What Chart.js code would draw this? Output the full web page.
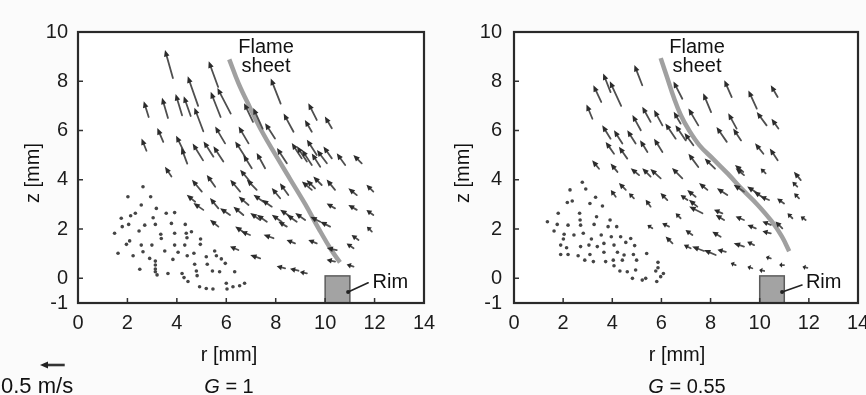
<!DOCTYPE html>
<html>
<head>
<meta charset="utf-8">
<script src="https://cdn.jsdelivr.net/npm/chart.js@4.4.1/dist/chart.umd.min.js"></script>
<style>
  html, body { margin: 0; padding: 0; background: #fbfbfb; overflow: hidden; }
  body { width: 866px; height: 395px; position: relative; }
  .panel { position: absolute; top: 0; width: 440px; height: 395px; }
  #panelA { left: 0; }
  #panelB { left: 430px; }
</style>
</head>
<body>
<div class="panel" id="panelA"><canvas id="chartA" width="440" height="395"></canvas></div>
<div class="panel" id="panelB"><canvas id="chartB" width="440" height="395"></canvas></div>
<script>
Chart.defaults.font.family = "'Liberation Sans', Arial, sans-serif";
Chart.defaults.font.size = 20;
Chart.defaults.color = '#1c1c1c';

const MM_PER_MS = 2;          // arrow length in mm for 1 m/s
const legendSpeed = 0.5;      // reference arrow, m/s
const zTickValues = [-1, 0, 2, 4, 6, 8, 10];
const rimR = [10, 11];
const rimZ = [-1, 0.1];

// ---- G = 1 ----
const flameR1 = [6.12, 6.50, 6.95, 7.45, 8.00, 8.60, 9.20, 9.75, 10.25, 10.60];
const flameZ1 = [8.89, 7.90, 6.95, 5.95, 5.00, 4.00, 3.00, 2.00, 1.15, 0.65];

const arrowR1 = [3.84, 5.67, 4.86, 2.86, 3.64, 4.21, 4.56, 5.07, 5.77, 6.18, 3.45, 2.77, 4.29, 4.42, 5.06, 7.08, 8.20, 7.47, 3.78,
  5.95, 6.90, 7.97, 8.72, 9.66, 9.46, 10.27,
  5.48, 5.88, 6.76, 7.03, 7.57, 8.45, 9.05, 9.26, 9.46, 9.66, 9.80, 10.07, 10.27, 10.81, 11.48,
  5.01, 5.55, 6.56, 6.96, 7.23, 8.18, 8.51, 9.46, 9.59, 9.86, 10.40, 11.28, 11.95,
  4.74, 5.07, 5.68, 6.15, 6.69, 6.90, 7.50, 7.84, 7.37, 7.64, 8.24, 8.58, 8.85, 9.19, 8.45, 9.80, 10.20, 10.40, 11.28, 11.95,
  5.68, 6.76, 6.96, 7.91, 8.78, 9.66, 10.47, 11.15, 11.35, 11.89,
  6.49, 7.37, 8.38, 8.92, 9.26, 10.40, 11.15];
const arrowZ1 = [8.13, 7.77, 7.00, 6.55, 6.51, 6.62, 6.59, 5.97, 6.55, 6.69, 5.54, 5.18, 5.13, 4.66, 4.79, 6.35, 7.09, 6.08, 4.13,
  5.48, 5.48, 5.68, 5.95, 6.43, 5.95, 6.09,
  4.94, 4.74, 4.94, 4.47, 4.47, 4.67, 4.87, 4.74, 4.60, 5.01, 4.53, 4.67, 4.87, 4.60, 4.67,
  3.52, 3.72, 3.52, 3.93, 3.59, 3.25, 3.38, 3.59, 3.65, 3.79, 3.59, 3.38, 3.52,
  3.11, 2.78, 2.84, 2.57, 2.57, 2.98, 3.11, 2.91, 2.37, 2.30, 2.30, 2.51, 2.30, 2.37, 2.10, 2.30, 2.10, 2.84, 2.78, 2.57,
  2.10, 1.83, 1.76, 1.63, 1.42, 1.42, 1.15, 1.22, 1.56, 1.90,
  1.15, 0.81, 0.41, 0.31, 0.20, 0.68, 0.48];
const arrowU1 = [-0.16, -0.19, -0.21, -0.10, -0.12, -0.13, -0.14, -0.18, -0.20, -0.27, -0.12, -0.10, -0.16, -0.12, -0.21, -0.18, -0.20, -0.19, -0.13,
  -0.20, -0.20, -0.20, -0.20, -0.17, -0.14, -0.14,
  -0.20, -0.20, -0.20, -0.17, -0.17, -0.20, -0.20, -0.20, -0.20, -0.20, -0.17, -0.20, -0.17, -0.17, -0.17,
  -0.20, -0.17, -0.20, -0.20, -0.20, -0.17, -0.17, -0.20, -0.17, -0.17, -0.17, -0.17, -0.14,
  -0.17, -0.20, -0.17, -0.20, -0.20, -0.20, -0.20, -0.20, -0.20, -0.20, -0.20, -0.20, -0.20, -0.20, -0.17, -0.20, -0.20, -0.17, -0.17, -0.14,
  -0.17, -0.20, -0.17, -0.20, -0.17, -0.17, -0.20, -0.14, -0.14, -0.10,
  -0.17, -0.20, -0.17, -0.17, -0.14, -0.17, -0.14];
const arrowW1 = [0.57, 0.52, 0.60, 0.32, 0.41, 0.43, 0.40, 0.48, 0.51, 0.52, 0.28, 0.25, 0.33, 0.32, 0.34, 0.38, 0.51, 0.42, 0.20,
  0.34, 0.34, 0.31, 0.37, 0.34, 0.24, 0.24,
  0.31, 0.31, 0.31, 0.27, 0.31, 0.31, 0.31, 0.31, 0.31, 0.31, 0.27, 0.27, 0.24, 0.24, 0.17,
  0.24, 0.24, 0.24, 0.24, 0.21, 0.21, 0.24, 0.17, 0.17, 0.17, 0.21, 0.14, 0.14,
  0.14, 0.14, 0.21, 0.14, 0.17, 0.17, 0.14, 0.14, 0.14, 0.14, 0.14, 0.14, 0.14, 0.14, 0.10, 0.10, 0.10, 0.10, 0.10, 0.10,
  0.14, 0.14, 0.07, 0.07, 0.07, 0.07, 0.04, 0.10, 0.10, 0.10,
  0.07, 0.07, 0.04, 0.04, 0.03, 0.04, 0.04];

// near-stagnant vectors in the recirculation zone
const dotR1 = [2.63, 2.02, 2.94, 2.56, 3.17, 1.75, 2.13, 2.32, 3.57, 3.91, 3.04, 1.48, 1.79, 2.05, 2.70, 2.47, 3.13, 3.78,
  4.34, 3.35, 3.37, 3.91, 4.38, 4.59, 4.41, 2.09, 1.96, 2.56, 2.99, 3.91, 4.32, 4.96, 4.95, 1.62, 2.23, 2.63, 3.51, 4.05,
  4.42, 4.69, 5.19, 5.53, 5.60, 2.90, 3.13, 3.84, 4.72, 5.23, 5.80, 5.96, 2.50, 3.13, 3.13, 3.13, 3.20, 3.64, 4.21, 4.29,
  4.79, 4.82, 5.44, 5.73, 6.34, 4.45, 4.92, 5.19, 5.46, 6.00, 6.03, 6.27, 6.54, 6.74];
const dotZ1 = [3.72, 3.31, 3.31, 2.98, 2.84, 2.44, 2.54, 2.64, 2.64, 2.67, 2.46, 1.83, 2.10, 2.19, 2.16, 1.92, 2.19, 2.23,
  2.19, 1.79, 1.62, 1.83, 1.83, 1.89, 1.65, 1.52, 1.38, 1.35, 1.35, 1.35, 1.35, 1.60, 1.38, 1.02, 0.92, 1.08, 1.11, 1.06,
  0.92, 1.02, 0.88, 1.11, 0.92, 0.81, 0.70, 0.77, 0.57, 0.57, 0.79, 0.61, 0.37, 0.54, 0.38, 0.27, 0.14, 0.20, 0.20, 0.03,
  0.30, 0.11, 0.30, 0.27, 0.27, -0.13, -0.34, -0.41, -0.43, -0.20, -0.43, -0.34, -0.30, -0.20];

// ---- G = 0.55 ----
const flameR2 = [5.97, 6.25, 6.50, 6.80, 7.10, 7.55, 8.10, 8.70, 9.30, 9.90, 10.50, 10.90, 11.20];
const flameZ2 = [8.94, 8.10, 7.35, 6.60, 6.05, 5.40, 4.85, 4.25, 3.60, 3.00, 2.30, 1.70, 1.10];

const arrowR2 = [5.22, 3.93, 4.36, 3.55, 3.19, 5.56, 6.04, 6.85, 6.78, 5.16, 3.93, 4.41, 4.95, 5.43, 6.04, 6.58, 6.99, 4.07, 4.61, 3.46, 4.21,
  8.86, 9.88, 10.73, 8.02, 7.50, 9.06, 10.28, 10.76, 8.66, 9.24, 10.15, 10.73, 7.50, 8.18, 9.33, 7.30,
  5.09, 5.56, 5.97, 6.85, 9.36, 10.24, 11.67,
  4.14, 4.55, 4.88, 5.56, 6.24, 7.06, 7.39, 7.46, 7.87, 8.68, 9.36, 9.91, 10.18, 10.38, 10.99, 11.53, 11.60,
  6.78, 7.67, 8.48, 8.55, 9.36, 9.84, 10.45, 10.92, 11.33, 11.87, 5.63, 6.31,
  6.45, 7.26, 8.41, 9.36, 9.77, 10.45, 7.19, 7.73, 8.21, 8.62,
  9.02, 9.70, 10.18, 10.45, 10.99, 11.94];
const arrowZ2 = [7.84, 7.56, 7.00, 7.16, 6.48, 6.35, 6.21, 7.29, 6.28, 6.01, 5.67, 5.47, 5.47, 5.13, 5.13, 5.67, 5.60, 5.06, 4.86, 4.45, 4.32,
  7.36, 6.89, 7.36, 6.75, 6.21, 6.08, 6.21, 6.08, 5.54, 5.60, 5.06, 4.79, 4.52, 4.45, 4.32, 5.40,
  4.19, 4.13, 4.06, 4.06, 4.19, 4.26, 3.99,
  3.31, 3.59, 3.25, 2.91, 3.18, 3.18, 3.31, 2.91, 3.59, 3.38, 3.52, 3.45, 3.25, 3.18, 3.04, 3.72, 3.25,
  2.44, 2.64, 2.64, 2.37, 2.37, 2.03, 2.17, 2.03, 2.44, 2.37, 2.03, 2.10,
  1.42, 1.76, 1.69, 1.29, 1.35, 1.83, 1.22, 1.11, 0.95, 1.08,
  0.54, 0.41, 0.30, 0.81, 0.54, 0.43];
const arrowU2 = [-0.16, -0.15, -0.23, -0.16, -0.12, -0.17, -0.17, -0.18, -0.14, -0.17, -0.17, -0.17, -0.17, -0.15, -0.17, -0.21, -0.21, -0.17, -0.17, -0.14, -0.14,
  -0.15, -0.17, -0.14, -0.16, -0.20, -0.17, -0.20, -0.14, -0.21, -0.16, -0.17, -0.16, -0.20, -0.21, -0.17, -0.18,
  -0.17, -0.17, -0.21, -0.21, -0.17, -0.10, -0.14,
  -0.10, -0.14, -0.10, -0.10, -0.14, -0.14, -0.17, -0.17, -0.17, -0.21, -0.21, -0.21, -0.21, -0.17, -0.14, -0.10, -0.10,
  -0.10, -0.27, -0.17, -0.17, -0.17, -0.17, -0.17, -0.14, -0.10, -0.10, -0.10, -0.14,
  -0.14, -0.14, -0.17, -0.21, -0.14, -0.17, -0.14, -0.24, -0.24, -0.17,
  -0.10, -0.10, -0.10, -0.10, -0.10, -0.10];
const arrowW2 = [0.41, 0.38, 0.50, 0.34, 0.29, 0.31, 0.31, 0.35, 0.24, 0.31, 0.27, 0.27, 0.27, 0.24, 0.27, 0.31, 0.31, 0.24, 0.24, 0.17, 0.17,
  0.34, 0.37, 0.24, 0.38, 0.34, 0.31, 0.27, 0.20, 0.30, 0.24, 0.21, 0.24, 0.27, 0.21, 0.14, 0.25,
  0.14, 0.17, 0.19, 0.21, 0.14, 0.10, 0.17,
  0.14, 0.14, 0.10, 0.14, 0.14, 0.10, 0.14, 0.14, 0.14, 0.14, 0.14, 0.14, 0.14, 0.07, 0.10, 0.10, 0.10,
  0.10, 0.14, 0.07, 0.10, 0.07, 0.07, 0.07, 0.14, 0.10, 0.07, 0.07, 0.07,
  0.14, 0.10, 0.10, 0.07, 0.07, 0.04, 0.07, 0.09, 0.10, 0.04,
  0.04, 0.03, 0.02, 0.03, 0.00, 0.02];

const dotR2 = [2.78, 2.92, 2.28, 3.32, 2.17, 2.37, 3.09, 3.60, 1.80, 2.67, 3.36, 1.36, 2.69, 3.91, 1.76, 2.20, 2.71, 3.26,
  3.83, 4.18, 1.63, 2.04, 2.44, 2.82, 3.15, 3.55, 3.96, 4.34, 4.75, 2.01, 1.90, 2.14, 2.71, 3.05, 3.39, 3.66, 4.07, 4.55,
  4.91, 1.90, 2.20, 2.61, 3.09, 3.66, 4.21, 4.48, 4.86, 5.40, 2.88, 3.23, 3.73, 4.04, 4.41, 4.99, 4.07, 4.31, 4.61, 4.95,
  5.86, 5.86, 5.77, 6.08, 5.97, 5.81, 4.82, 5.22, 5.36];
const dotZ2 = [3.90, 3.63, 3.59, 3.29, 3.08, 3.14, 3.04, 2.94, 2.64, 2.64, 2.50, 2.30, 2.37, 2.37, 2.19, 2.16, 2.16, 2.19,
  2.10, 2.10, 1.92, 1.79, 1.76, 1.83, 1.60, 1.76, 1.69, 1.69, 1.62, 1.60, 1.35, 1.24, 1.29, 1.35, 1.29, 1.42, 1.35, 1.46,
  1.33, 0.97, 0.97, 0.92, 0.97, 1.06, 1.06, 0.95, 0.97, 1.01, 0.74, 0.68, 0.68, 0.74, 0.74, 0.74, 0.51, 0.30, 0.27, 0.34,
  0.65, 0.43, 0.30, 0.20, 0.07, -0.13, 0.00, -0.07, 0.00];

const TEXT_FONT = "20px 'Liberation Sans', Arial, sans-serif";
const ITALIC_FONT = "italic 20px 'Liberation Sans', Arial, sans-serif";

function drawArrow(ctx, x0, y0, x1, y1, head, half) {
    const dx = x1 - x0, dy = y1 - y0;
    const len = Math.hypot(dx, dy);
    if (len < 0.5) return;
    const ux = dx / len, uy = dy / len;
    const h = Math.min(head, len * 0.6);
    const bx = x1 - ux * h, by = y1 - uy * h;
    ctx.beginPath();
    ctx.moveTo(x0, y0);
    ctx.lineTo(bx + ux, by + uy);
    ctx.stroke();
    ctx.beginPath();
    ctx.moveTo(x1, y1);
    ctx.lineTo(bx - uy * half, by + ux * half);
    ctx.lineTo(bx + uy * half, by - ux * half);
    ctx.closePath();
    ctx.fill();
}

const fieldPlugin = {
    id: 'field',
    beforeDraw(chart) {
        const { ctx, chartArea: a } = chart;
        ctx.save();
        ctx.fillStyle = '#ffffff';
        ctx.fillRect(a.left, a.top, a.width, a.height);
        ctx.restore();
    },
    beforeDatasetsDraw(chart) {
        // burner rim
        const { ctx, scales: { x, y } } = chart;
        const x0 = x.getPixelForValue(rimR[0]), x1 = x.getPixelForValue(rimR[1]);
        const y0 = y.getPixelForValue(rimZ[1]), y1 = y.getPixelForValue(rimZ[0]);
        ctx.save();
        ctx.fillStyle = '#a3a3a3';
        ctx.strokeStyle = '#5c5c5c';
        ctx.lineWidth = 1.5;
        ctx.fillRect(x0, y0, x1 - x0, y1 - y0);
        ctx.strokeRect(x0, y0, x1 - x0, y1 - y0);
        ctx.restore();
    },
    afterDatasetsDraw(chart, args, opts) {
        const { ctx, scales: { x, y } } = chart;
        ctx.save();
        ctx.strokeStyle = '#4f4f4f';
        ctx.fillStyle = '#2b2b2b';
        ctx.lineWidth = 1.8;
        ctx.lineCap = 'round';
        chart.data.datasets.forEach((ds) => {
            if (!ds.quiver) return;
            ds.data.forEach((p) => {
                drawArrow(ctx,
                    x.getPixelForValue(p.x), y.getPixelForValue(p.y),
                    x.getPixelForValue(p.x + p.u * MM_PER_MS), y.getPixelForValue(p.y + p.w * MM_PER_MS),
                    6.5, 2.8);
            });
        });

        // annotations
        ctx.font = TEXT_FONT;
        ctx.fillStyle = '#111';
        ctx.textAlign = 'center';
        ctx.textBaseline = 'middle';
        ctx.fillText('Flame', x.getPixelForValue(opts.flameLabel[0]), y.getPixelForValue(opts.flameLabel[1]));
        ctx.fillText('sheet', x.getPixelForValue(opts.flameLabel[0]), y.getPixelForValue(opts.flameLabel[2]));

        const lx0 = x.getPixelForValue(opts.rimPointer[0]), ly0 = y.getPixelForValue(opts.rimPointer[1]);
        const lx1 = x.getPixelForValue(opts.rimPointer[2]), ly1 = y.getPixelForValue(opts.rimPointer[3]);
        ctx.strokeStyle = '#222';
        ctx.lineWidth = 1.6;
        ctx.beginPath();
        ctx.moveTo(lx0, ly0);
        ctx.lineTo(lx1, ly1);
        ctx.stroke();
        ctx.fillStyle = '#222';
        ctx.beginPath();
        ctx.arc(lx0, ly0, 2, 0, Math.PI * 2);
        ctx.fill();
        ctx.fillStyle = '#111';
        ctx.textAlign = 'left';
        ctx.fillText('Rim', x.getPixelForValue(opts.rimLabel[0]), y.getPixelForValue(opts.rimLabel[1]));
        ctx.restore();
    },
    afterDraw(chart, args, opts) {
        const { ctx, chartArea: a, scales: { x, y } } = chart;
        ctx.save();
        // inner tick marks
        ctx.strokeStyle = '#333';
        ctx.lineWidth = 1.5;
        ctx.beginPath();
        x.ticks.forEach((t) => {
            if (t.value <= x.min || t.value >= x.max) return;
            const px = x.getPixelForValue(t.value);
            ctx.moveTo(px, a.bottom);
            ctx.lineTo(px, a.bottom - 5);
        });
        y.ticks.forEach((t) => {
            if (t.value <= y.min || t.value >= y.max) return;
            const py = y.getPixelForValue(t.value);
            ctx.moveTo(a.left, py);
            ctx.lineTo(a.left + 5, py);
        });
        ctx.stroke();

        // frame
        ctx.strokeStyle = '#2a2a2a';
        ctx.lineWidth = 2.2;
        ctx.strokeRect(a.left, a.top, a.width, a.height);

        // axis titles and case label
        ctx.fillStyle = '#111';
        ctx.textBaseline = 'middle';
        ctx.font = TEXT_FONT;
        ctx.textAlign = 'center';
        ctx.fillText('r [mm]', opts.titleX, 355);
        ctx.save();
        ctx.translate(33, 173);
        ctx.rotate(-Math.PI / 2);
        ctx.fillText('z [mm]', 0, 0);
        ctx.restore();

        const rest = ' = ' + opts.g;
        ctx.font = ITALIC_FONT;
        const wG = ctx.measureText('G').width;
        ctx.font = TEXT_FONT;
        const wRest = ctx.measureText(rest).width;
        const start = opts.captionX - (wG + wRest) / 2;
        ctx.textAlign = 'left';
        ctx.font = ITALIC_FONT;
        ctx.fillText('G', start, 387);
        ctx.font = TEXT_FONT;
        ctx.fillText(rest, start + wG, 387);

        // velocity reference arrow
        if (opts.showLegend) {
            const len = (x.getPixelForValue(legendSpeed * MM_PER_MS) - x.getPixelForValue(0));
            ctx.strokeStyle = '#333';
            ctx.fillStyle = '#222';
            ctx.lineWidth = 2.6;
            drawArrow(ctx, 40 + len, 365, 40, 365, 8, 3.5);
            ctx.fillStyle = '#111';
            ctx.font = "22px 'Liberation Sans', Arial, sans-serif";
            ctx.fillText(legendSpeed + ' m/s', 1, 387);
        }
        ctx.restore();
    }
};

function buildPanel(canvasId, p) {
    const arrows = p.r.map((r, i) => ({ x: r, y: p.z[i], u: p.u[i], w: p.w[i] }));
    const dots = p.dotR.map((r, i) => ({ x: r, y: p.dotZ[i] }));
    const flame = p.flameR.map((r, i) => ({ x: r, y: p.flameZ[i] }));

    return new Chart(document.getElementById(canvasId), {
        type: 'scatter',
        data: {
            datasets: [
                {
                    label: 'flame sheet',
                    data: flame,
                    showLine: true,
                    borderColor: 'rgba(150, 150, 150, 0.9)',
                    borderWidth: 4.5,
                    tension: 0.4,
                    pointRadius: 0
                },
                {
                    label: 'stagnant',
                    data: dots,
                    pointRadius: 1.8,
                    backgroundColor: '#454545',
                    borderWidth: 0
                },
                {
                    label: 'velocity',
                    data: arrows,
                    pointRadius: 0,
                    quiver: true
                }
            ]
        },
        options: {
            responsive: false,
            animation: false,
            events: [],
            layout: { padding: { left: 0, top: 32, right: p.padRight, bottom: 0 } },
            plugins: {
                legend: { display: false },
                tooltip: { enabled: false },
                field: {
                    g: p.g,
                    titleX: p.titleX,
                    captionX: p.captionX,
                    showLegend: p.showLegend,
                    flameLabel: p.flameLabel,
                    rimPointer: p.rimPointer,
                    rimLabel: p.rimLabel
                }
            },
            scales: {
                x: {
                    type: 'linear',
                    min: 0,
                    max: 14,
                    ticks: { stepSize: 2, padding: 8, color: '#1c1c1c' },
                    grid: { display: false, drawTicks: false },
                    border: { display: false },
                    afterFit: (s) => { s.height = 92; s.paddingLeft = 0; s.paddingRight = 0; }
                },
                y: {
                    type: 'linear',
                    min: -1,
                    max: 10,
                    afterBuildTicks: (s) => { s.ticks = zTickValues.map((v) => ({ value: v })); },
                    ticks: { padding: p.yPad, color: '#1c1c1c' },
                    grid: { display: false, drawTicks: false },
                    border: { display: false },
                    afterFit: (s) => { s.width = p.yWidth; s.paddingTop = 0; s.paddingBottom = 0; }
                }
            }
        },
        plugins: [fieldPlugin]
    });
}

buildPanel('chartA', {
    r: arrowR1, z: arrowZ1, u: arrowU1, w: arrowW1,
    dotR: dotR1, dotZ: dotZ1,
    flameR: flameR1, flameZ: flameZ1,
    g: '1',
    padRight: 16, yWidth: 78, yPad: 10,
    titleX: 229, captionX: 229, showLegend: true,
    flameLabel: [7.61, 9.39, 8.58],
    rimPointer: [10.93, -0.55, 11.74, -0.18],
    rimLabel: [11.92, -0.15]
});

buildPanel('chartB', {
    r: arrowR2, z: arrowZ2, u: arrowU2, w: arrowW2,
    dotR: dotR2, dotZ: dotZ2,
    flameR: flameR2, flameZ: flameZ2,
    g: '0.55',
    padRight: 12, yWidth: 84, yPad: 12,
    titleX: 247, captionX: 257, showLegend: false,
    flameLabel: [7.45, 9.39, 8.58],
    rimPointer: [10.91, -0.55, 11.72, -0.27],
    rimLabel: [11.88, -0.15]
});
</script>
</body>
</html>
